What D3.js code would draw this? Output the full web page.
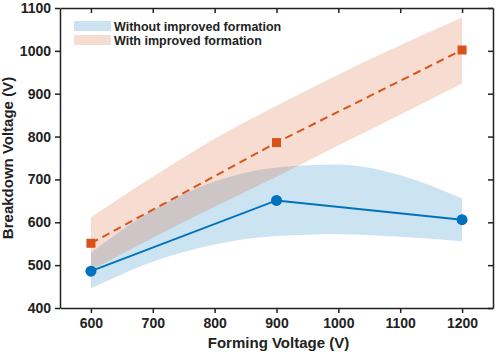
<!DOCTYPE html>
<html><head><meta charset="utf-8">
<script src="https://cdn.jsdelivr.net/npm/d3@7"></script>
<style>body{margin:0;background:#fff}svg{display:block}text{font-family:"Liberation Sans",Arial,sans-serif;font-weight:bold;fill:#222}</style>
</head><body><svg id="c" width="500" height="352"></svg>
<script>
const formingV = [600, 900, 1200];
const withoutV = [486, 651, 606];
const withV = [551, 786, 1002];
const bandX = [600, 700, 800, 900, 1000, 1100, 1200];
const withoutLow = [446, 508, 548, 568, 572, 566, 556];
const withoutHigh = [529, 628, 695, 728, 735, 710, 656];
const withLow = [488, 564, 636, 706, 779, 851, 924];
const withHigh = [612, 706, 795, 872, 945, 1013, 1078];
const xTicks = [600, 700, 800, 900, 1000, 1100, 1200];
const yTicks = [400, 500, 600, 700, 800, 900, 1000, 1100];
const legendLabels = ["Without improved formation", "With improved formation"];

const blue = "#0072BD", orange = "#D95319";
const L = 60, R = 493, T = 8, B = 308;
const svg = d3.select("#c");
const x = d3.scaleLinear().domain([550, 1250]).range([L, R]);
const y = d3.scaleLinear().domain([400, 1100]).range([B, T]);

function band(lo, hi, col) {
  const data = bandX.map((v, i) => ({x: v, lo: lo[i], hi: hi[i]}));
  svg.append("path").datum(data)
    .attr("d", d3.area().x(d => x(d.x)).y0(d => y(d.lo)).y1(d => y(d.hi)).curve(d3.curveMonotoneX))
    .attr("fill", col).attr("fill-opacity", 0.2);
}
band(withoutLow, withoutHigh, blue);
band(withLow, withHigh, orange);

const line = d3.line().x(d => x(d[0])).y(d => y(d[1]));
svg.append("path").datum(formingV.map((v, i) => [v, withV[i]])).attr("d", line)
  .attr("fill", "none").attr("stroke", orange).attr("stroke-width", 2).attr("stroke-dasharray", "8,5");
svg.append("path").datum(formingV.map((v, i) => [v, withoutV[i]])).attr("d", line)
  .attr("fill", "none").attr("stroke", blue).attr("stroke-width", 2);
svg.selectAll(".sq").data(formingV).enter().append("rect")
  .attr("x", (d) => x(d) - 4.5).attr("y", (d, i) => y(withV[i]) - 4.5)
  .attr("width", 9).attr("height", 9).attr("fill", orange);
svg.selectAll(".ci").data(formingV).enter().append("circle")
  .attr("cx", d => x(d)).attr("cy", (d, i) => y(withoutV[i])).attr("r", 5.5).attr("fill", blue);

// axes
const fmt = d3.format("d");
const ax = (g) => { g.selectAll("path,line").attr("stroke", "#222").attr("stroke-width", 1.5); };
svg.append("g").attr("transform", `translate(0,${B})`)
  .call(d3.axisBottom(x).tickValues(xTicks).tickFormat(fmt).tickSize(5).tickSizeOuter(0).tickPadding(5))
  .call(ax).call(g => g.selectAll("text").style("font-size", "14px").attr("fill", "#222"));
svg.append("g").attr("transform", `translate(${L},0)`)
  .call(d3.axisLeft(y).tickValues(yTicks).tickFormat(fmt).tickSize(5).tickSizeOuter(0).tickPadding(4))
  .call(ax).call(g => g.selectAll("text").style("font-size", "14px").attr("fill", "#222"));
svg.append("g").attr("transform", `translate(0,${T})`)
  .call(d3.axisBottom(x).tickValues(xTicks).tickSize(5).tickSizeOuter(0).tickFormat(""))
  .call(ax);
svg.append("g").attr("transform", `translate(${R},0)`)
  .call(d3.axisLeft(y).tickValues(yTicks).tickSize(5).tickSizeOuter(0).tickFormat(""))
  .call(ax);

svg.append("text").attr("x", (L + R) / 2 + 2).attr("y", 348).attr("text-anchor", "middle")
  .style("font-size", "15px").text("Forming Voltage (V)");
svg.append("text").attr("transform", `translate(13,${(T + B) / 2}) rotate(-90)`)
  .attr("text-anchor", "middle").style("font-size", "15px").text("Breakdown Voltage (V)");

// legend
const lg = svg.append("g");
[blue, orange].forEach((c, i) => {
  lg.append("rect").attr("x", 74).attr("y", 21 + i * 14).attr("width", 37).attr("height", 10)
    .attr("fill", c).attr("fill-opacity", 0.2);
  lg.append("text").attr("x", 114).attr("y", 30.5 + i * 14).style("font-size", "12.5px").text(legendLabels[i]);
});
</script></body></html>
